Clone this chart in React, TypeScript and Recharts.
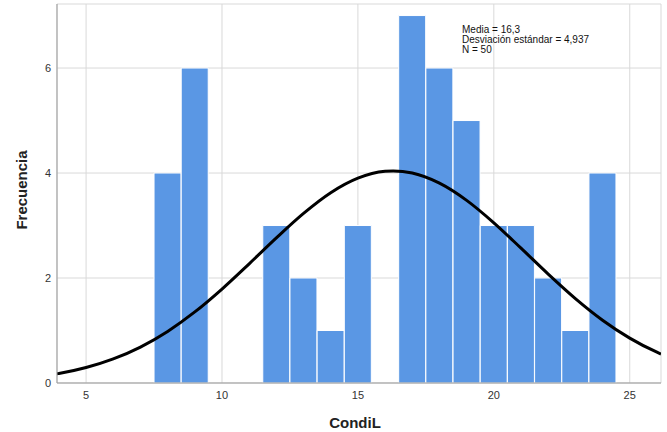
import { ComposedChart, Bar, Line, XAxis, YAxis, CartesianGrid, Label } from 'recharts';

const FONT = '"Liberation Sans", Arial, sans-serif';

// histogram bins of CondiL (bin centre, width 1)
const binCenters = [8, 9, 10, 11, 12, 13, 14, 15, 16, 17, 18, 19, 20, 21, 22, 23, 24];
const binCounts = [4, 6, 0, 0, 3, 2, 1, 3, 0, 7, 6, 5, 3, 3, 2, 1, 4];

// fitted normal curve, read along the x axis
const curveX = [3.93, 4, 5, 6, 7, 8, 9, 10, 11, 12, 13, 14, 15, 16, 16.3, 17, 18, 19, 20, 21, 22, 23, 24, 25, 26, 26.15];
const curveY = [0.175, 0.181, 0.295, 0.459, 0.685, 0.983, 1.354, 1.79, 2.271, 2.765, 3.231, 3.625, 3.902, 4.033, 4.04, 4.0, 3.807, 3.479, 3.051, 2.568, 2.075, 1.609, 1.197, 0.855, 0.586, 0.552];

const xTicks = [5, 10, 15, 20, 25];
const yTicks = [0, 2, 4, 6];
const statLines = ['Media = 16,3', 'Desviación estándar = 4,937', 'N = 50'];

const bars = binCenters.map((x, i) => ({ x, count: binCounts[i] }));
const curve = curveX.map((x, i) => ({ x, y: curveY[i] }));

const X_DOMAIN: [number, number] = [3.93, 26.15];
const tickStyle = { fontFamily: FONT, fontSize: 11, fill: '#333' };

export default function App() {
  return (
    <div style={{ position: 'absolute', left: 0, top: 0, width: 667, height: 432, background: '#fff', fontFamily: FONT }}>
      <ComposedChart
        width={667}
        height={432}
        data={bars}
        margin={{ top: 4, right: 6, bottom: 0, left: 0 }}
        barCategoryGap={0}
        barGap={0}
      >
        <CartesianGrid stroke="#d9d9d9" strokeWidth={1} />
        <XAxis
          dataKey="x"
          type="number"
          domain={X_DOMAIN}
          allowDataOverflow
          ticks={xTicks}
          tickLine={false}
          axisLine={{ stroke: '#999' }}
          tick={tickStyle}
          height={49}
        >
          <Label
            content={() => (
              <text x={355} y={428} textAnchor="middle" fontFamily={FONT} fontSize={15} fontWeight="bold" fill="#222">
                CondiL
              </text>
            )}
          />
        </XAxis>
        <XAxis xAxisId="curve" dataKey="x" type="number" domain={X_DOMAIN} allowDataOverflow hide />
        <YAxis
          type="number"
          domain={[0, 7.22]}
          allowDataOverflow
          ticks={yTicks}
          tickLine={false}
          tickMargin={0}
          axisLine={{ stroke: '#999' }}
          tick={tickStyle}
          width={57}
        >
          <Label
            content={() => (
              <text
                x={27}
                y={190}
                transform="rotate(-90 27 190)"
                textAnchor="middle"
                fontFamily={FONT}
                fontSize={15}
                fontWeight="bold"
                fill="#222"
              >
                Frecuencia
              </text>
            )}
          />
        </YAxis>
        <Bar dataKey="count" fill="#5a97e4" stroke="#fff" strokeWidth={1} isAnimationActive={false} />
        <Line
          xAxisId="curve"
          data={curve}
          dataKey="y"
          type="monotone"
          stroke="#000"
          strokeWidth={3}
          dot={false}
          activeDot={false}
          isAnimationActive={false}
        />
      </ComposedChart>
      <div style={{ position: 'absolute', left: 462, top: 25, fontSize: 10, lineHeight: '10px', color: '#111' }}>
        {statLines.map((s) => (
          <div key={s}>{s}</div>
        ))}
      </div>
    </div>
  );
}
